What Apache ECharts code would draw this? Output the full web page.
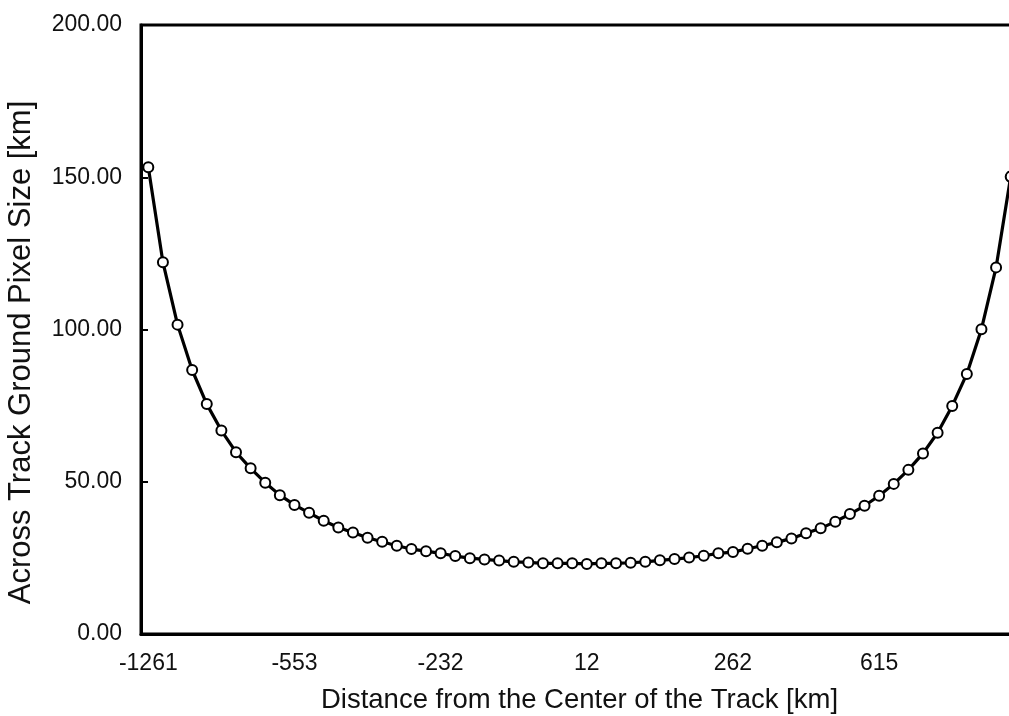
<!DOCTYPE html>
<html>
<head>
<meta charset="utf-8">
<script src="https://cdn.jsdelivr.net/npm/echarts@6/dist/echarts.min.js"></script>
<style>html,body{margin:0;padding:0;background:#fff}#c{width:1009px;height:716px}</style>
</head>
<body>
<div id="c"></div>
<script>
var distances = [-1261,-1133,-1031,-945,-871,-806,-748,-695,-646,-599,
  -553,-513,-476,-441,-408,-376,-345,-315,-286,-258,
  -232,-206,-181,-156,-131,-107,-83,-59,-35,-11,
  12,35,59,83,107,131,156,181,207,234,
  262,290,319,349,381,414,449,486,525,567,
  615,660,710,765,827,897,977,1072,1170,1290];
var pixelSize = [153.3,122.1,101.6,86.7,75.5,66.8,59.7,54.4,49.7,45.6,
  42.4,39.8,37.2,35.0,33.3,31.6,30.3,29.0,27.9,27.2,
  26.5,25.6,24.9,24.5,24.1,23.7,23.5,23.2,23.2,23.2,
  23.0,23.2,23.2,23.4,23.7,24.2,24.6,25.1,25.7,26.5,
  26.9,28.0,29.0,30.1,31.4,33.1,34.7,36.9,39.4,42.1,
  45.4,49.3,53.9,59.3,66.1,74.9,85.4,100.1,120.4,150.2];
var yTicks = [0, 50, 100, 150, 200];

var FONT = '"Liberation Sans", Arial, sans-serif';
var chart = echarts.init(document.getElementById('c'), null, {renderer: 'canvas'});
chart.setOption({
  animation: false,
  backgroundColor: '#fff',
  grid: {left: 141, top: 25, width: 877, height: 609, outerBoundsMode: 'none', containLabel: false,
    show: true, borderColor: '#000', borderWidth: 3, backgroundColor: 'transparent'},
  xAxis: {
    type: 'category',
    data: distances.map(String),
    boundaryGap: true,
    name: 'Distance from the Center of the Track [km]',
    nameLocation: 'middle',
    nameGap: 52,
    nameTextStyle: {fontFamily: FONT, fontSize: 27.5, color: '#111'},
    axisLine: {lineStyle: {color: '#000', width: 3}},
    axisTick: {inside: true, length: 7, interval: 9, lineStyle: {color: '#000', width: 2}},
    axisLabel: {interval: 9, margin: 18, fontFamily: FONT, fontSize: 23, color: '#111'},
    splitLine: {show: false}
  },
  yAxis: {
    type: 'value',
    min: yTicks[0],
    max: yTicks[yTicks.length - 1],
    interval: 50,
    name: 'Across Track Ground Pixel Size [km]',
    nameLocation: 'middle',
    nameGap: 104,
    nameTextStyle: {fontFamily: FONT, fontSize: 31, color: '#111', padding: [0, 46, 0, 0]},
    axisLine: {show: true, lineStyle: {color: '#000', width: 3}},
    axisTick: {show: true, inside: true, length: 7, lineStyle: {color: '#000', width: 2}},
    axisLabel: {margin: 19, fontFamily: FONT, fontSize: 23, color: '#111', formatter: function (v) { return v.toFixed(2); }},
    splitLine: {show: false}
  },
  series: [{
    type: 'line',
    data: pixelSize,
    symbol: 'circle',
    symbolSize: 10,
    showAllSymbol: true,
    clip: false,
    lineStyle: {color: '#000', width: 3.2},
    itemStyle: {color: '#fff', borderColor: '#000', borderWidth: 2},
    z: 3
  }]
});
</script>
</body>
</html>
